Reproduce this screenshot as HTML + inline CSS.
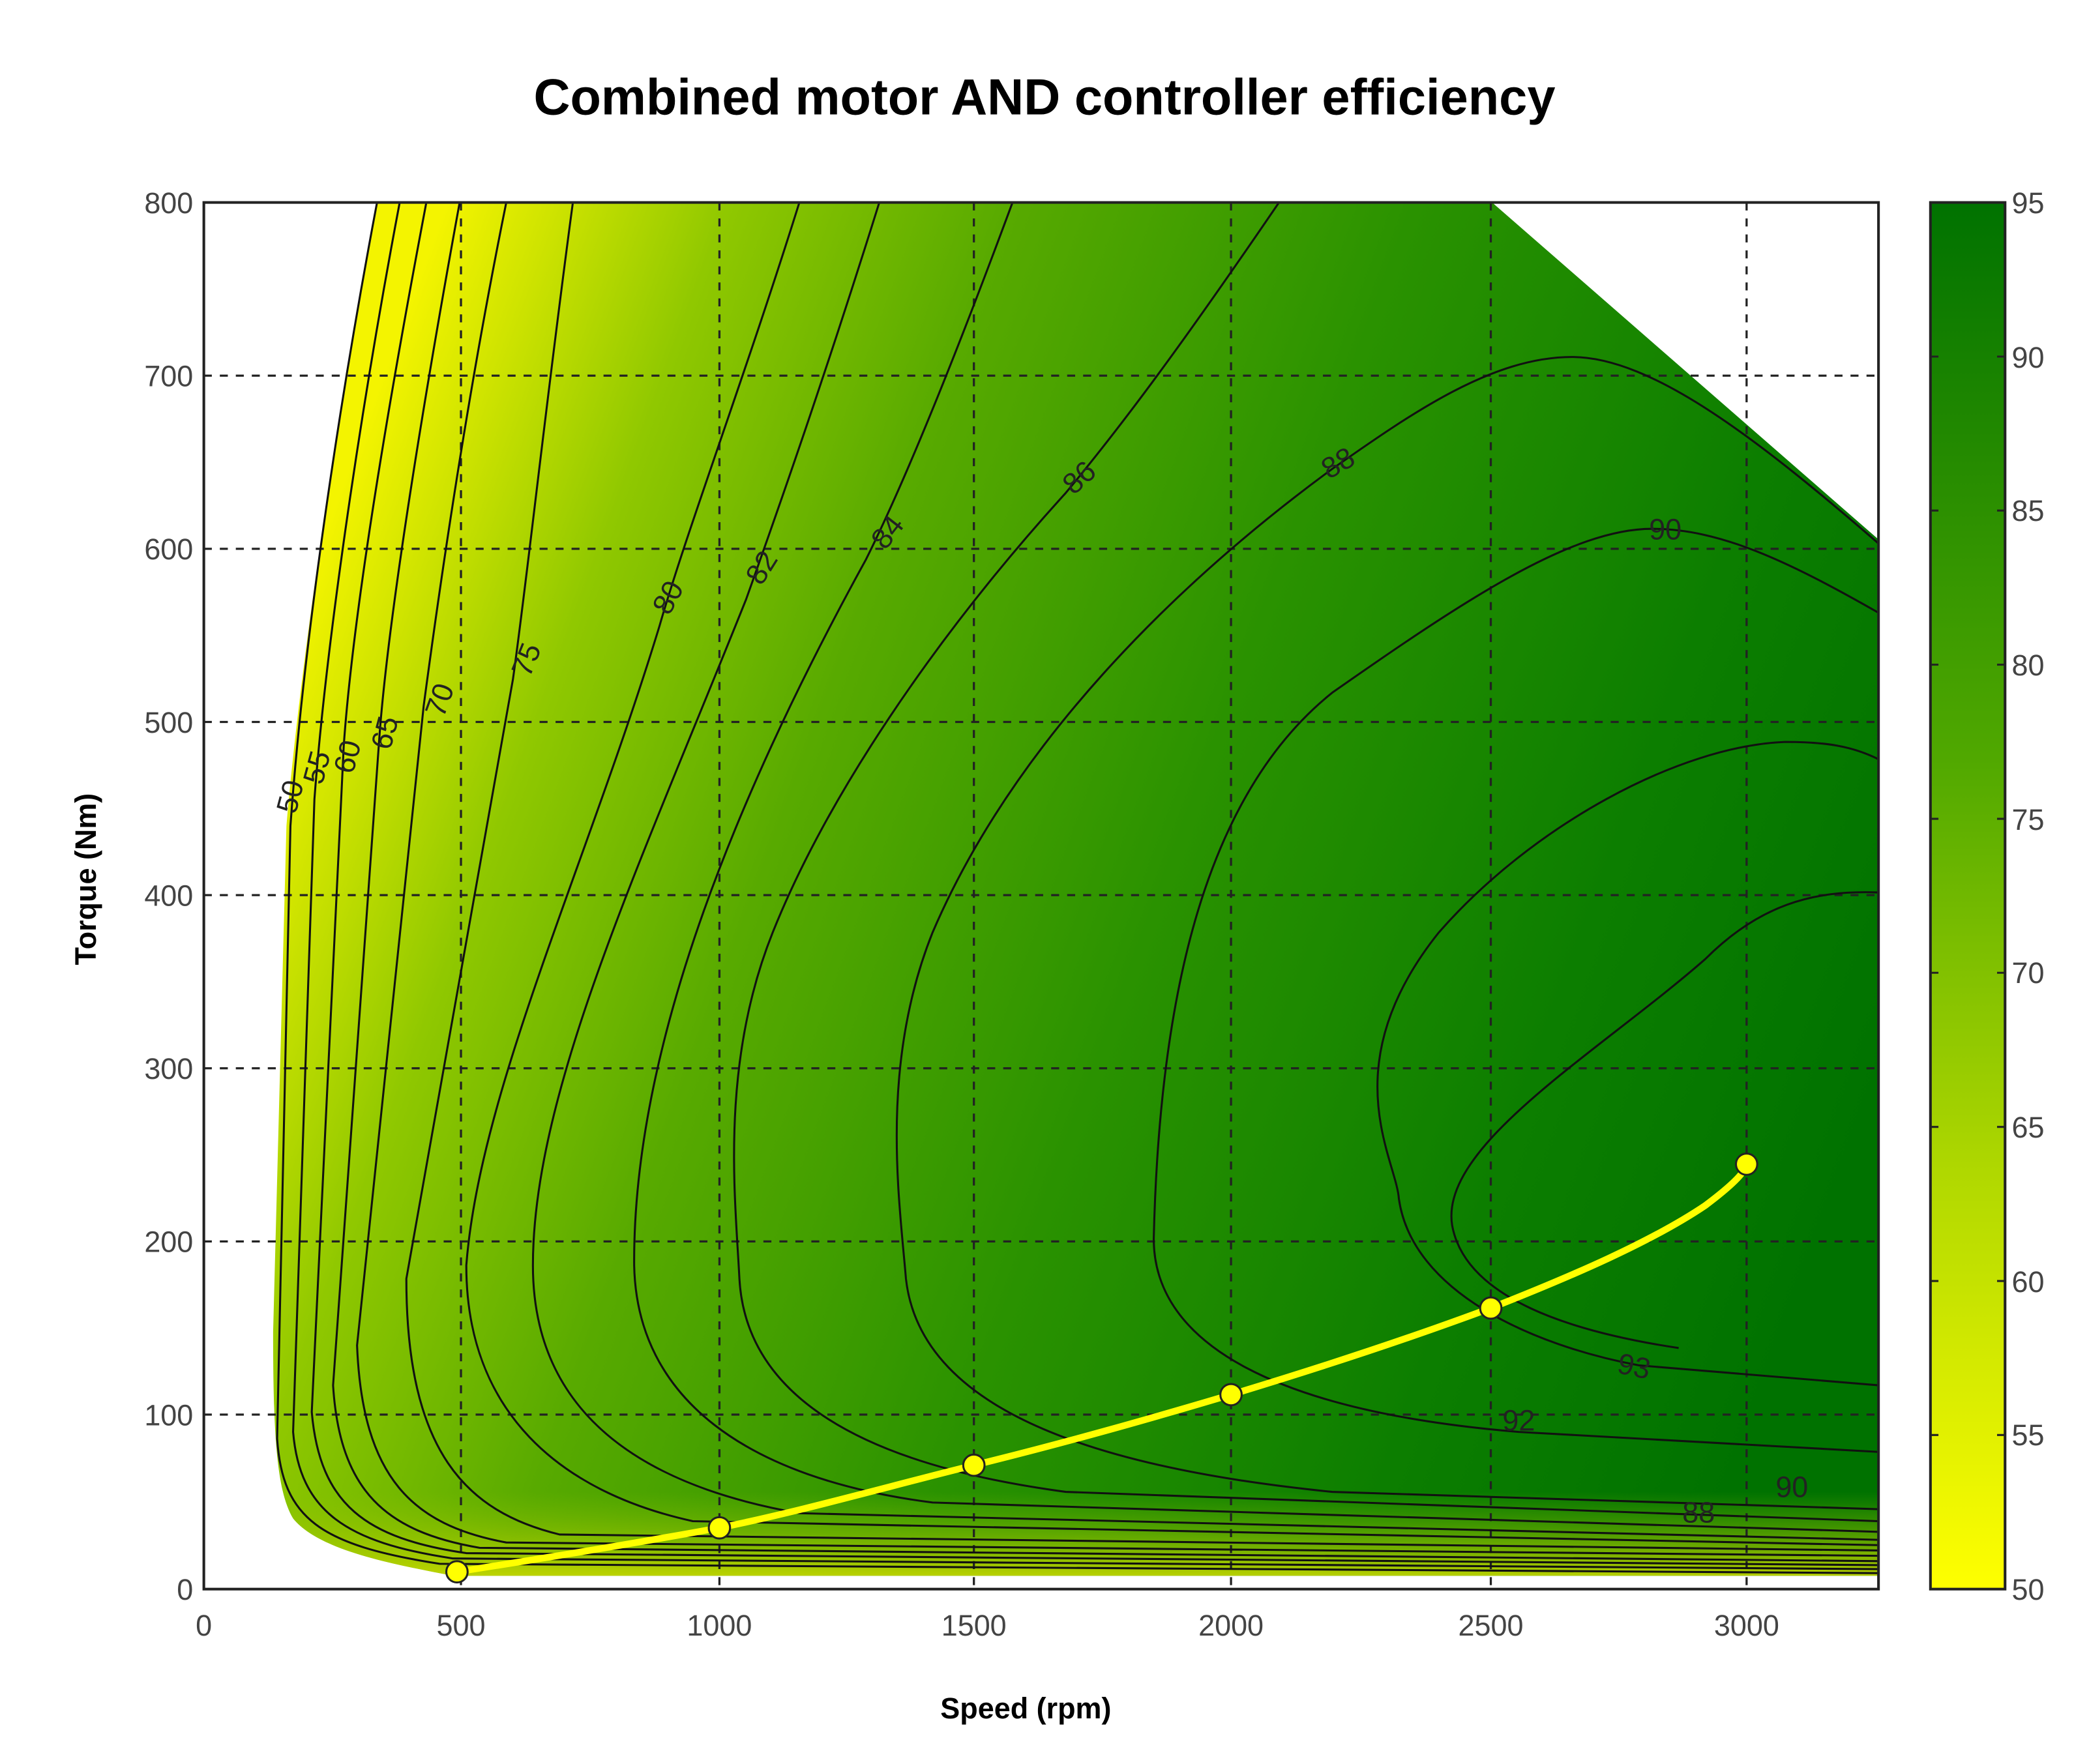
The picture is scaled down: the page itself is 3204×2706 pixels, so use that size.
<!DOCTYPE html>
<html><head><meta charset="utf-8"><style>html,body{margin:0;padding:0;background:#fff}svg{display:block}</style></head>
<body>
<svg width="3204" height="2706" viewBox="0 0 1568 1324.3" xmlns="http://www.w3.org/2000/svg" font-family="Liberation Sans, sans-serif">
<defs>
<linearGradient id="g" gradientUnits="userSpaceOnUse" x1="225" y1="450" x2="1390" y2="880">
<stop offset="0" stop-color="#f4f400"/><stop offset="0.06" stop-color="#d0e400"/><stop offset="0.16" stop-color="#90c800"/><stop offset="0.32" stop-color="#58aa00"/><stop offset="0.55" stop-color="#2a9200"/><stop offset="0.8" stop-color="#0c7e00"/><stop offset="1" stop-color="#007200"/>
</linearGradient>
<linearGradient id="cb" x1="0" y1="1" x2="0" y2="0">
<stop offset="0" stop-color="#ffff00"/><stop offset="0.3" stop-color="#b0d800"/><stop offset="0.6" stop-color="#50a800"/><stop offset="1" stop-color="#007200"/>
</linearGradient>
<linearGradient id="bt" x1="0" y1="0" x2="0" y2="1">
<stop offset="0" stop-color="#90c000" stop-opacity="0"/><stop offset="1" stop-color="#c8d800" stop-opacity="0.9"/>
</linearGradient>
</defs>
<text x="784" y="86" font-size="38" font-weight="bold" text-anchor="middle">Combined motor AND controller efficiency</text>
<path d="M283,152 L1120,152 L1410,405 L1410,1183 L340,1183 C300,1175 240,1165 220,1140 C208,1120 205,1080 205,1000 L215,620 C225,500 255,300 283,152 Z" fill="url(#g)"/>
<path d="M215,1120 L1410,1120 L1410,1183 L340,1183 C300,1175 240,1165 220,1140 Z" fill="url(#bt)"/>
<g stroke="#222" stroke-width="1.6" stroke-dasharray="6,6" fill="none">
<path d="M346,152V1193M540,152V1193M731,152V1193M924,152V1193M1119,152V1193M1311,152V1193"/>
<path d="M153,282H1410M153,412H1410M153,542H1410M153,672H1410M153,802H1410M153,932H1410M153,1062H1410"/>
</g>
<g stroke="#111" stroke-width="1.5" fill="none">
<path d="M283,152 C255,300 228,480 218,620 L208,1080 C212,1140 240,1160 330,1174 L1410,1181"/>
<path d="M300,152 C272,300 245,480 236,600 L220,1075 C225,1135 260,1158 340,1170 L1410,1178"/>
<path d="M320,152 C292,300 265,460 258,560 L234,1060 C240,1130 275,1155 350,1166 L1410,1175"/>
<path d="M345,152 C318,300 292,460 285,550 L250,1040 C255,1120 290,1150 360,1162 L1410,1172"/>
<path d="M380,152 C350,300 330,440 318,530 L268,1010 C272,1110 310,1145 380,1158 L1410,1168"/>
<path d="M430,152 C410,300 395,440 385,510 L305,960 C305,1090 350,1135 420,1152 L1410,1164"/>
<path d="M600,152 C560,280 515,400 495,470 C440,650 360,820 350,950 C350,1060 420,1120 520,1142 L1410,1160"/>
<path d="M660,152 C620,280 585,380 560,450 C480,650 400,820 400,950 C400,1060 480,1115 600,1136 L1410,1156"/>
<path d="M760,152 C720,260 680,360 650,420 C540,620 475,800 476,950 C478,1050 560,1110 700,1128 L1410,1150"/>
<path d="M960,152 C900,240 850,310 800,370 C700,480 620,600 580,700 C540,800 552,900 555,960 C560,1050 650,1100 800,1120 L1410,1142"/>
<path d="M1410,408 C1320,330 1240,268 1180,268 C1120,268 1060,310 1000,352 C880,440 760,560 700,700 C660,800 675,900 680,960 C690,1050 800,1100 1000,1120 L1410,1133"/>
<path d="M1410,460 C1340,420 1290,397 1240,397 C1180,397 1100,450 1000,520 C900,600 870,760 866,930 C866,1010 960,1060 1140,1075 L1410,1090"/>
<path d="M1410,570 C1390,560 1370,557 1340,557 C1260,560 1150,620 1080,700 C1000,800 1048,870 1050,900 C1060,970 1150,1010 1230,1025 L1410,1040"/>
<path d="M1410,670 C1360,668 1320,680 1280,720 C1200,790 1080,860 1090,920 C1100,975 1180,1000 1260,1012"/>
</g>
<g font-size="22" fill="#222" text-anchor="middle">
<text x="225" y="600" transform="rotate(-75 225 600)">50</text>
<text x="245" y="578" transform="rotate(-75 245 578)">55</text>
<text x="268" y="570" transform="rotate(-75 268 570)">60</text>
<text x="296" y="552" transform="rotate(-75 296 552)">65</text>
<text x="337" y="528" transform="rotate(-70 337 528)">70</text>
<text x="402" y="498" transform="rotate(-68 402 498)">75</text>
<text x="508" y="452" transform="rotate(-62 508 452)">80</text>
<text x="578" y="430" transform="rotate(-58 578 430)">82</text>
<text x="672" y="404" transform="rotate(-52 672 404)">84</text>
<text x="815" y="364" transform="rotate(-42 815 364)">86</text>
<text x="1008" y="354" transform="rotate(-30 1008 354)">88</text>
<text x="1250" y="405">90</text>
<text x="1225" y="1033" transform="rotate(12 1225 1033)">93</text>
<text x="1140" y="1074">92</text>
<text x="1345" y="1124">90</text>
<text x="1275" y="1143">88</text>
</g>
<rect x="153" y="152" width="1257" height="1041" fill="none" stroke="#222" stroke-width="2"/>
<g font-size="22" fill="#444" text-anchor="end">
<text x="145" y="160">800</text><text x="145" y="290">700</text><text x="145" y="420">600</text><text x="145" y="550">500</text><text x="145" y="680">400</text><text x="145" y="810">300</text><text x="145" y="940">200</text><text x="145" y="1070">100</text><text x="145" y="1201">0</text>
</g>
<g font-size="22" fill="#444" text-anchor="middle">
<text x="153" y="1228">0</text><text x="346" y="1228">500</text><text x="540" y="1228">1000</text><text x="731" y="1228">1500</text><text x="924" y="1228">2000</text><text x="1119" y="1228">2500</text><text x="1311" y="1228">3000</text>
</g>
<text x="770" y="1290" font-size="22" font-weight="bold" text-anchor="middle">Speed (rpm)</text>
<text x="72" y="660" font-size="22" font-weight="bold" text-anchor="middle" transform="rotate(-90 72 660)">Torque (Nm)</text>
<path d="M343,1180 C420,1168 480,1158 540,1147 C600,1135 670,1115 731,1100 C800,1083 860,1066 924,1047 C990,1027 1060,1004 1119,982 C1180,958 1240,932 1280,905 C1300,890 1310,880 1311,874" fill="none" stroke="#ffff00" stroke-width="5"/>
<g fill="#ffff00" stroke="#222" stroke-width="1.5">
<circle cx="343" cy="1180" r="8"/><circle cx="540" cy="1147" r="8"/><circle cx="731" cy="1100" r="8"/><circle cx="924" cy="1047" r="8"/><circle cx="1119" cy="982" r="8"/><circle cx="1311" cy="874" r="8"/>
</g>
<rect x="1449" y="152" width="56" height="1041" fill="url(#cb)" stroke="#222" stroke-width="2"/>
<g stroke="#222" stroke-width="1.5">
<path d="M1449,267.7h6M1449,383.3h6M1449,499h6M1449,614.7h6M1449,730.3h6M1449,846h6M1449,961.7h6M1449,1077.3h6"/>
<path d="M1505,267.7h-6M1505,383.3h-6M1505,499h-6M1505,614.7h-6M1505,730.3h-6M1505,846h-6M1505,961.7h-6M1505,1077.3h-6"/>
</g>
<g font-size="22" fill="#444">
<text x="1510" y="160">95</text><text x="1510" y="276">90</text><text x="1510" y="391">85</text><text x="1510" y="507">80</text><text x="1510" y="623">75</text><text x="1510" y="738">70</text><text x="1510" y="854">65</text><text x="1510" y="970">60</text><text x="1510" y="1085">55</text><text x="1510" y="1201">50</text>
</g>
</svg>
</body></html>
